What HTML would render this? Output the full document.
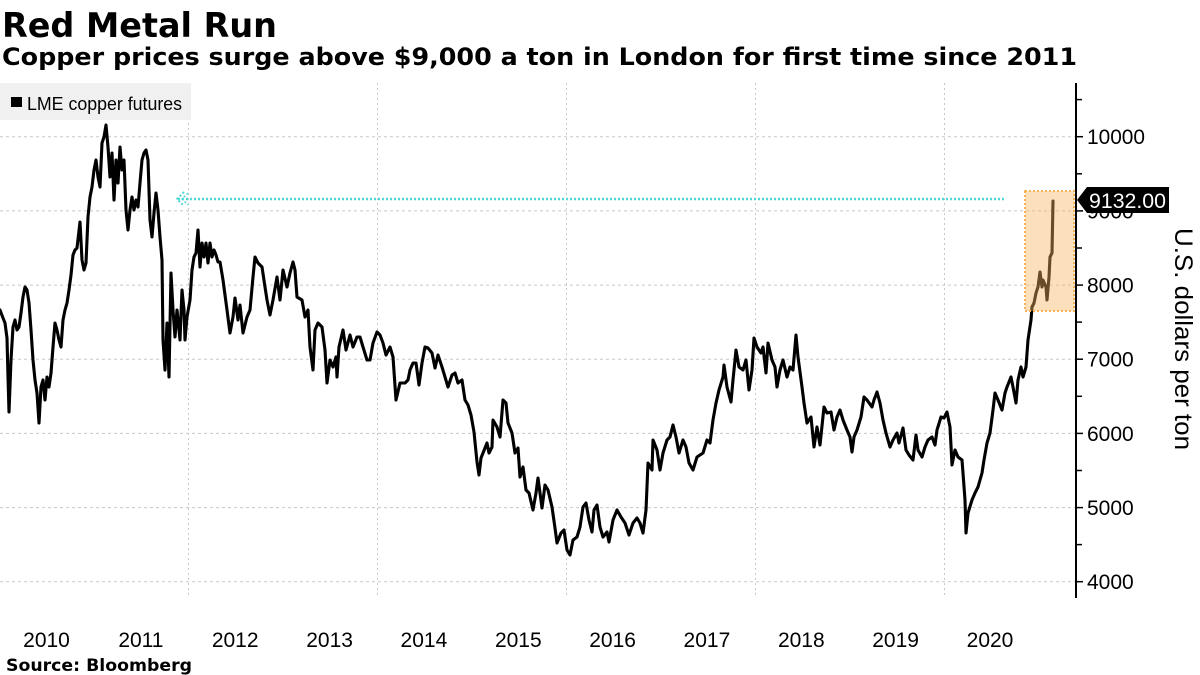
<!DOCTYPE html>
<html>
<head>
<meta charset="utf-8">
<style>
html,body{margin:0;padding:0;background:#fff;}
svg{display:block;}
</style>
</head>
<body>
<svg width="1200" height="675" viewBox="0 0 1200 675" xmlns="http://www.w3.org/2000/svg">
<rect x="0" y="0" width="1200" height="675" fill="#fff"/>

<!-- Titles -->
<text x="2" y="37" font-family="DejaVu Sans, Liberation Sans, sans-serif" font-weight="bold" font-size="34" textLength="275" lengthAdjust="spacingAndGlyphs" fill="#000">Red Metal Run</text>
<text x="2" y="65" font-family="DejaVu Sans, Liberation Sans, sans-serif" font-weight="bold" font-size="24" textLength="1075" lengthAdjust="spacingAndGlyphs" fill="#000">Copper prices surge above $9,000 a ton in London for first time since 2011</text>

<!-- Horizontal gridlines -->
<g stroke="#c8c8c8" stroke-width="1" stroke-dasharray="3,3">
<line x1="0" y1="136.7" x2="1075" y2="136.7"/>
<line x1="0" y1="210.9" x2="1075" y2="210.9"/>
<line x1="0" y1="285.1" x2="1075" y2="285.1"/>
<line x1="0" y1="359.2" x2="1075" y2="359.2"/>
<line x1="0" y1="433.4" x2="1075" y2="433.4"/>
<line x1="0" y1="507.6" x2="1075" y2="507.6"/>
<line x1="0" y1="581.7" x2="1075" y2="581.7"/>
</g>
<!-- Vertical gridlines -->
<g stroke="#c8c8c8" stroke-width="1" stroke-dasharray="2,3">
<line x1="188.5" y1="83" x2="188.5" y2="598"/>
<line x1="377.5" y1="83" x2="377.5" y2="598"/>
<line x1="566.5" y1="83" x2="566.5" y2="598"/>
<line x1="755.5" y1="83" x2="755.5" y2="598"/>
<line x1="944.5" y1="83" x2="944.5" y2="598"/>
</g>

<!-- Legend -->
<rect x="0" y="83" width="191" height="37" fill="#f0f0f0"/>
<rect x="11" y="97" width="11" height="10" fill="#000"/>
<text x="27" y="110" font-family="Liberation Sans, DejaVu Sans, sans-serif" font-size="18" textLength="155" lengthAdjust="spacingAndGlyphs" fill="#000">LME copper futures</text>

<!-- Cyan dotted reference line -->
<line x1="178" y1="199" x2="1006" y2="199" stroke="#4fd6d6" stroke-width="2.5" stroke-dasharray="2,2"/>
<polyline points="184,192 177,199 184,206" fill="none" stroke="#4fd6d6" stroke-width="2" stroke-dasharray="2,2"/>
<polyline points="188,193 182,199 188,205" fill="none" stroke="#4fd6d6" stroke-width="1.5" stroke-dasharray="2,2"/>

<!-- Price line -->
<polyline fill="none" stroke="#000" stroke-width="3.1" stroke-linejoin="round" stroke-linecap="round" points="0,310 3,318 5,323 7,338 8,377 9,412 11,360 13,327 15,320 17,330 19,327 21,313 23,297 25,287 27,290 29,303 31,330 33,360 35,380 37,393 39,423 41,387 43,380 45,400 47,377 49,387 51,373 53,347 55,323 57,330 59,340 61,347 63,320 65,310 67,303 69,290 71,275 73,255 75,250 77,248 80,222 82,260 84,270 86,263 88,217 90,197 92,187 94,170 96,160 98,177 100,187 102,143 104,137 106,125 108,147 110,177 112,153 114,200 116,160 118,183 120,147 122,170 124,160 126,210 128,230 130,210 132,197 134,210 136,200 138,207 140,183 142,160 144,153 146,150 148,160 150,220 152,237 154,213 156,193 158,210 160,237 162,260 163,340 165,370 167,323 169,377 171,273 173,310 175,337 177,310 180,340 182,290 184,310 185,340 187,317 190,300 192,270 194,257 196,253 198,230 200,267 202,243 204,257 206,243 208,263 210,243 212,257 214,250 216,255 218,262 220,262 223,280 227,310 230,333 233,317 235,298 238,320 240,305 243,333 247,317 250,310 253,277 255,257 258,263 262,267 265,287 267,300 270,315 273,300 277,277 280,300 283,270 287,287 290,273 293,262 295,270 297,297 302,300 305,317 308,310 310,347 313,370 315,330 318,323 322,327 325,350 327,383 330,360 333,367 336,357 337,377 339,347 343,330 346,350 350,335 353,347 357,337 360,337 363,347 367,360 370,360 373,343 377,332 380,335 383,343 386,355 390,347 393,357 396,400 400,383 405,383 408,380 410,370 413,363 416,363 419,385 422,363 425,347 428,348 432,353 435,368 438,355 442,367 445,377 448,387 452,375 455,373 458,383 462,380 465,400 468,405 471,415 474,432 477,462 479,475 481,458 483,453 487,443 489,453 492,447 493,420 497,427 500,437 503,400 506,403 508,423 512,433 515,453 518,448 520,477 523,467 526,490 529,493 533,510 536,493 538,478 542,508 545,485 548,490 552,507 555,528 557,543 561,533 564,530 567,550 570,555 573,540 577,537 580,527 583,507 586,503 589,520 592,532 594,510 597,505 600,527 603,537 607,532 609,542 613,520 617,510 621,517 625,523 629,535 633,523 637,518 640,523 643,533 646,510 648,463 652,470 653,440 657,450 660,470 663,453 667,440 670,437 673,425 676,437 679,453 683,440 686,447 689,463 693,470 697,457 700,455 703,453 707,440 710,443 713,420 716,403 719,390 723,377 724,365 727,387 731,402 733,380 736,350 739,367 743,370 746,360 749,390 752,370 754,338 757,347 761,353 763,347 766,373 768,343 772,360 775,367 777,387 780,370 783,360 787,377 790,367 793,370 796,335 798,357 802,387 804,403 807,423 811,417 814,447 817,427 820,445 824,407 827,413 831,412 834,430 837,417 840,410 843,420 847,430 850,437 852,452 854,437 857,430 861,417 864,397 867,400 872,407 874,400 877,392 880,403 883,420 886,433 890,447 893,440 897,433 899,443 903,428 906,450 909,455 913,460 916,435 918,450 922,457 925,447 928,440 932,437 935,445 937,430 941,417 944,418 947,412 950,427 952,465 955,450 958,457 962,460 963,473 965,500 966,533 968,513 972,500 975,493 978,487 982,473 984,460 987,443 990,433 993,410 995,393 998,400 1002,410 1005,393 1007,387 1011,377 1013,387 1016,403 1018,380 1021,367 1023,377 1026,367 1028,340 1031,320 1032,307 1034,303 1036,293 1038,287 1040,272 1042,287 1043,280 1046,287 1047,300 1049,277 1050,257 1052,253 1053,201"/>

<!-- Highlight box -->
<rect x="1025" y="191" width="49" height="120" fill="rgba(248,180,95,0.42)" stroke="#f3b45c" stroke-width="2" stroke-dasharray="2,2"/>

<!-- Right axis -->
<line x1="1076" y1="83" x2="1076" y2="598" stroke="#000" stroke-width="2"/>
<g stroke="#000" stroke-width="1.5">
<line x1="1076" y1="99.6" x2="1082" y2="99.6"/>
<line x1="1076" y1="136.7" x2="1083" y2="136.7"/>
<line x1="1076" y1="173.8" x2="1082" y2="173.8"/>
<line x1="1076" y1="210.9" x2="1083" y2="210.9"/>
<line x1="1076" y1="248" x2="1082" y2="248"/>
<line x1="1076" y1="285.1" x2="1083" y2="285.1"/>
<line x1="1076" y1="322.1" x2="1082" y2="322.1"/>
<line x1="1076" y1="359.2" x2="1083" y2="359.2"/>
<line x1="1076" y1="396.3" x2="1082" y2="396.3"/>
<line x1="1076" y1="433.4" x2="1083" y2="433.4"/>
<line x1="1076" y1="470.5" x2="1082" y2="470.5"/>
<line x1="1076" y1="507.6" x2="1083" y2="507.6"/>
<line x1="1076" y1="544.6" x2="1082" y2="544.6"/>
<line x1="1076" y1="581.7" x2="1083" y2="581.7"/>
</g>
<g font-family="Liberation Sans, DejaVu Sans, sans-serif" font-size="21" fill="#000">
<text x="1087" y="144.2" textLength="58" lengthAdjust="spacingAndGlyphs">10000</text>
<text x="1087" y="218.4">9000</text>
<text x="1087" y="292.6">8000</text>
<text x="1087" y="366.7">7000</text>
<text x="1087" y="440.9">6000</text>
<text x="1087" y="515.1">5000</text>
<text x="1087" y="589.2">4000</text>
</g>

<!-- Current value label -->
<polygon points="1077,200 1087,187 1169,187 1169,213 1087,213" fill="#000"/>
<text x="1089" y="208" font-family="Liberation Sans, DejaVu Sans, sans-serif" font-size="21" textLength="77" lengthAdjust="spacingAndGlyphs" fill="#fff">9132.00</text>

<!-- Axis title -->
<text transform="translate(1175,339) rotate(90)" text-anchor="middle" font-family="Liberation Sans, DejaVu Sans, sans-serif" font-size="25" textLength="222" lengthAdjust="spacingAndGlyphs" fill="#000">U.S. dollars per ton</text>

<!-- X labels -->
<g font-family="Liberation Sans, DejaVu Sans, sans-serif" font-size="21" fill="#000" text-anchor="middle">
<text x="46.5" y="647">2010</text>
<text x="140.9" y="647">2011</text>
<text x="235.2" y="647">2012</text>
<text x="329.6" y="647">2013</text>
<text x="423.9" y="647">2014</text>
<text x="518.3" y="647">2015</text>
<text x="612.6" y="647">2016</text>
<text x="706.9" y="647">2017</text>
<text x="801.3" y="647">2018</text>
<text x="895.6" y="647">2019</text>
<text x="990" y="647">2020</text>
</g>

<!-- Source -->
<text x="6" y="671" font-family="DejaVu Sans, Liberation Sans, sans-serif" font-weight="bold" font-size="17" textLength="186" lengthAdjust="spacingAndGlyphs" fill="#000">Source: Bloomberg</text>
</svg>
</body>
</html>
